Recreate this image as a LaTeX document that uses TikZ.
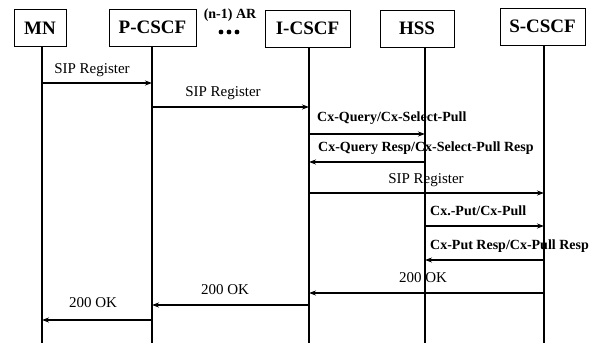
\documentclass[tikz,border=0pt]{standalone}
\usepackage{fontspec}
\setmainfont{Liberation Serif}
\usetikzlibrary{arrows.meta}
\begin{document}
\begin{tikzpicture}[x=1pt,y=-1pt,
  entity/.style={draw,line width=0.9pt,minimum height=37pt,inner sep=0pt,font=\fontsize{19}{21}\selectfont\bfseries},
  life/.style={line width=1.4pt},
  msg/.style={line width=1.1pt,-{Stealth[length=7pt,width=5pt]}},
  lbl/.style={inner sep=0pt,font=\fontsize{15}{17}\selectfont},
  blbl/.style={inner sep=0pt,anchor=west,font=\fontsize{14}{16}\selectfont\bfseries}]
\useasboundingbox (0,0) rectangle (597,343);
% entities
\node[entity,minimum width=52pt] (mn) at (40,28) {MN};
\node[entity,minimum width=87pt] (pc) at (152.5,27.5) {P-CSCF};
\node[entity,minimum width=85pt] (ic) at (307.5,28.5) {I-CSCF};
\node[entity,minimum width=74pt] (hs) at (417,28.5) {HSS};
\node[entity,minimum width=85pt] (sc) at (542.5,26.5) {S-CSCF};
\node[inner sep=0pt,font=\fontsize{14}{16}\selectfont\bfseries] (ar) at (230,15) {(n-1) AR};
\foreach \i/\x in {1/221,2/229,3/237}{\fill (\x,32) circle (2.4pt) coordinate (dot\i);}
% lifelines
\coordinate (mnT) at (42,47);   \coordinate (mnB) at (42,343);
\coordinate (pcT) at (152,46);  \coordinate (pcB) at (152,343);
\coordinate (icT) at (309,47);  \coordinate (icB) at (309,343);
\coordinate (hsT) at (425,47);  \coordinate (hsB) at (425,343);
\coordinate (scT) at (544,45);  \coordinate (scB) at (544,343);
\foreach \n in {mn,pc,ic,hs,sc}{\draw[life] (\n T) -- (\n B);}
% message levels
\coordinate (y1) at (0,83);
\coordinate (y2) at (0,107);
\coordinate (y3) at (0,134);
\coordinate (y4) at (0,162);
\coordinate (y5) at (0,193);
\coordinate (y6) at (0,226);
\coordinate (y7) at (0,260);
\coordinate (y8) at (0,293);
\coordinate (y9) at (0,305);
\coordinate (y10) at (0,320);
% messages
\draw[msg] (mnT |- y1) -- (pcT |- y1);
\draw[msg] (pcT |- y2) -- (icT |- y2);
\draw[msg] (icT |- y3) -- (hsT |- y3);
\draw[msg] (hsT |- y4) -- (icT |- y4);
\draw[msg] (icT |- y5) -- (scT |- y5);
\draw[msg] (hsT |- y6) -- (scT |- y6);
\draw[msg] (scT |- y7) -- (hsT |- y7);
\draw[msg] (scT |- y8) -- (icT |- y8);
\draw[msg] (icT |- y9) -- (pcT |- y9);
\draw[msg] (pcT |- y10) -- (mnT |- y10);
% labels
\node[lbl] (l1) at (92,70) {SIP Register};
\node[lbl] (l2) at (223,93) {SIP Register};
\node[blbl] (l3) at (317,118) {Cx-Query/Cx-Select-Pull};
\node[blbl] (l4) at (318,148) {Cx-Query Resp/Cx-Select-Pull Resp};
\node[lbl] (l5) at (426,180) {SIP Register};
\node[blbl] (l6) at (430,211) {Cx.-Put/Cx-Pull};
\node[blbl] (l7) at (430,246) {Cx-Put Resp/Cx-Pull Resp};
\node[lbl] (l8) at (423,278) {200 OK};
\node[lbl] (l9) at (225,290) {200 OK};
\node[lbl] (l10) at (93,303) {200 OK};
\end{tikzpicture}
\end{document}
